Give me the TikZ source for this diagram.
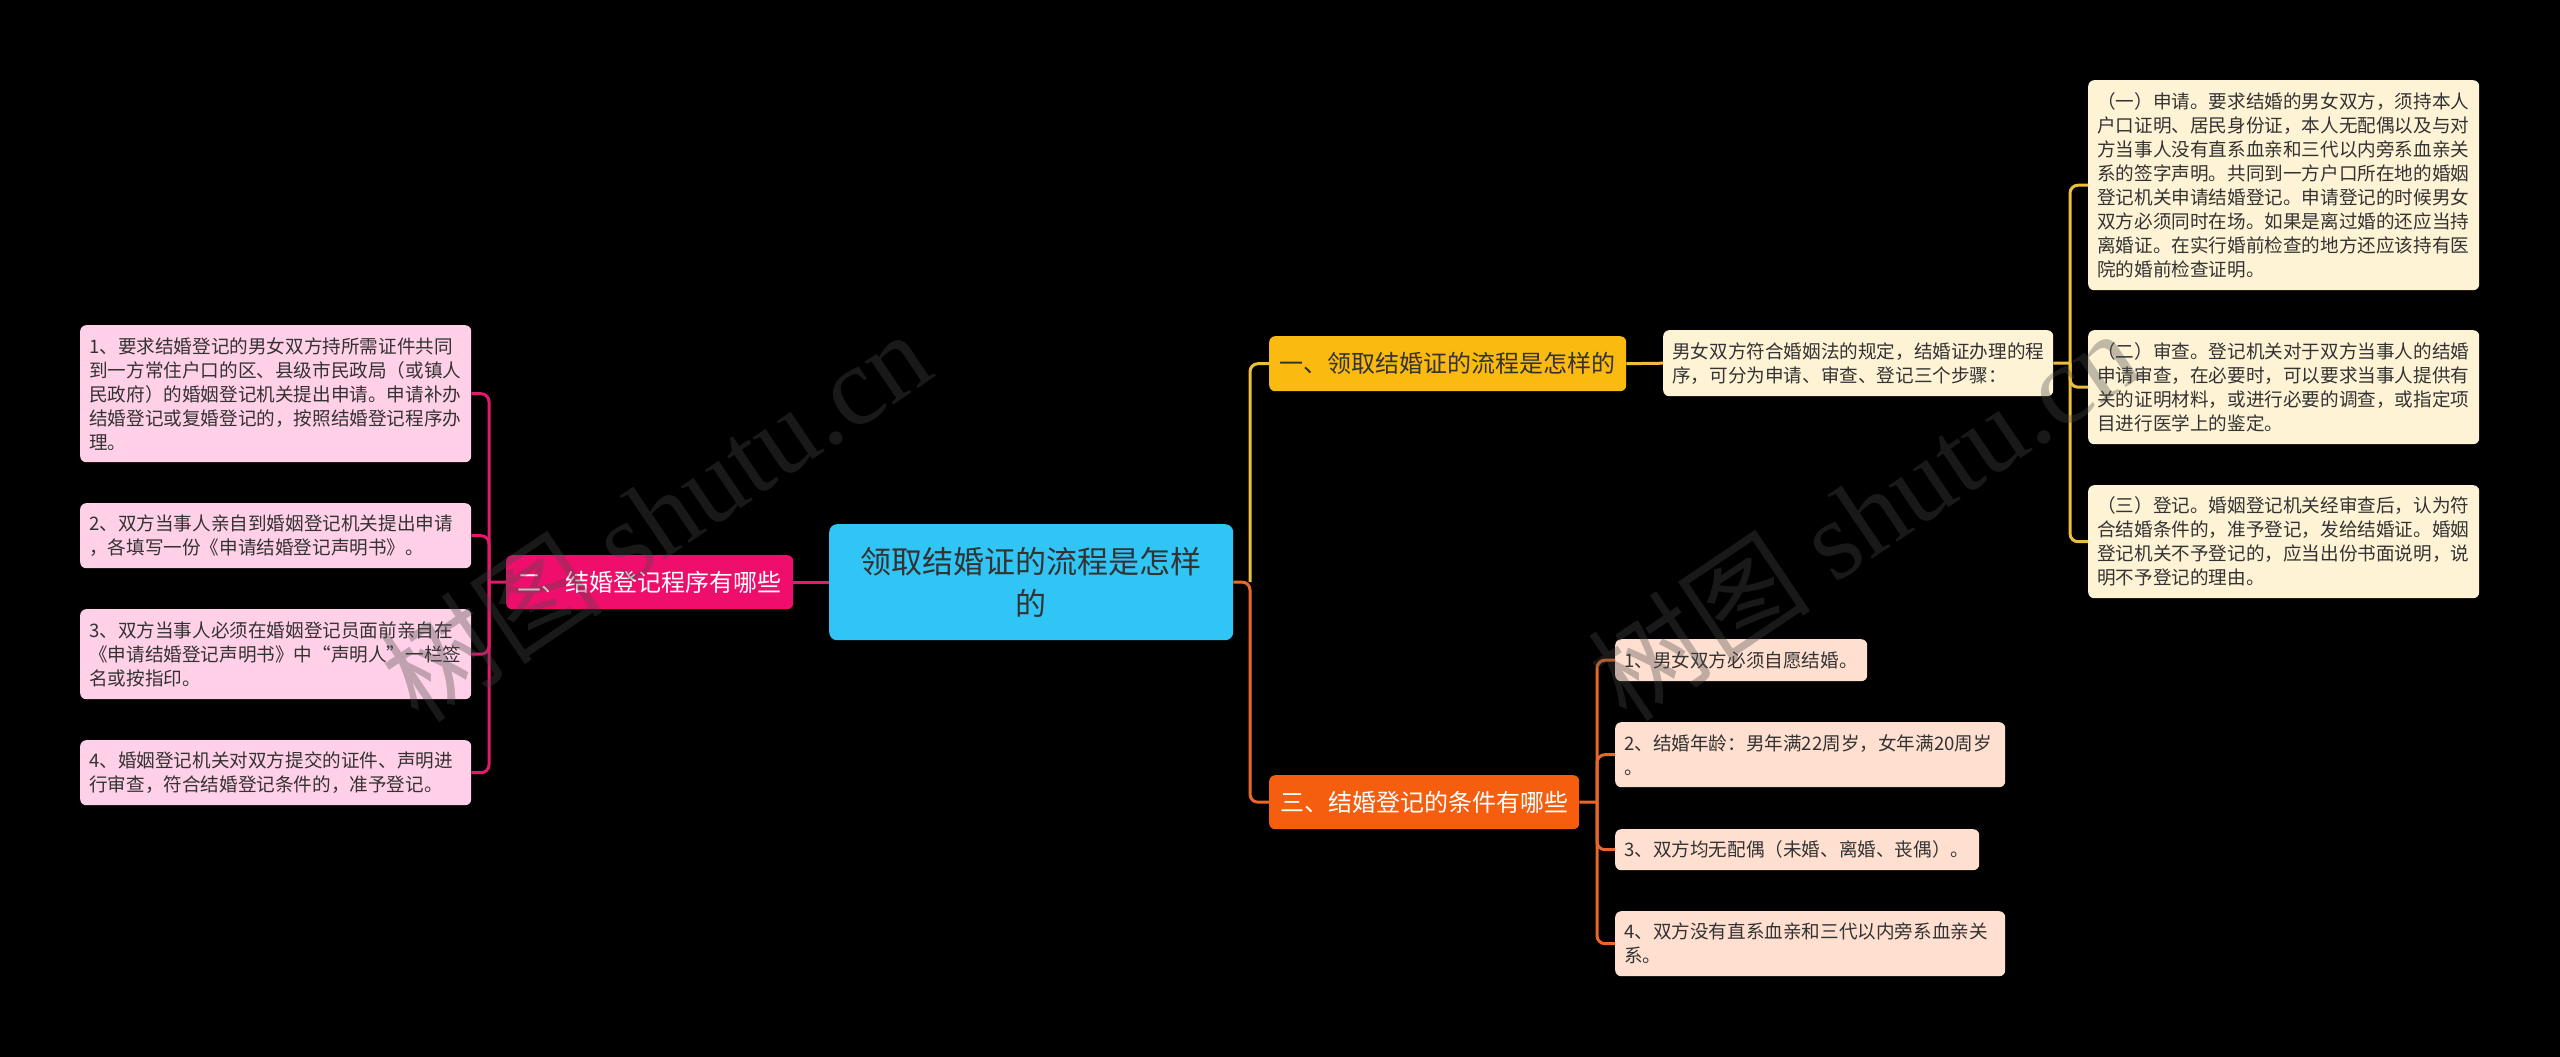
\documentclass[tikz,border=0pt]{standalone}
\usepackage{fontspec}
\setmainfont{Noto Sans CJK SC}
\newfontfamily\wmserif{Liberation Serif}
\newcommand\lffont{\fontsize{18.6}{24}\selectfont}
\newcommand\mnfont{\fontsize{24}{30}\selectfont}
\newcommand\rtfont{\fontsize{31}{42}\selectfont}
\definecolor{rootfill}{HTML}{30C5F5}
\definecolor{pmain}{HTML}{EF0E6B}
\definecolor{pleaf}{HTML}{FFD0E8}
\definecolor{pline}{HTML}{E3196C}
\definecolor{ymain}{HTML}{FBBA0F}
\definecolor{yleaf}{HTML}{FFF3D6}
\definecolor{yline}{HTML}{EDBE3E}
\definecolor{omain}{HTML}{F55D0F}
\definecolor{oleaf}{HTML}{FFE0D0}
\definecolor{oline}{HTML}{E8672A}
\definecolor{txt}{HTML}{333333}
\definecolor{wmgray}{HTML}{4A4A4A}
\tikzset{
  box/.style={anchor=north west, rounded corners=6, inner ysep=0, inner xsep=9},
  leafbox/.style={box, font=\lffont, text=txt, align=left},
  mainbox/.style={box, font=\mnfont, align=center},
  conn/.style={line width=3, rounded corners=8},
  wm/.style={rotate=34, text=wmgray, opacity=0.35, font=\fontsize{112}{120}\selectfont}
}
\begin{document}
\begin{tikzpicture}[x=1pt, y=-1pt]
\fill[black] (0,0) rectangle (2560,1057);
\useasboundingbox (0,0) rectangle (2560,1057);

% root
\node[box, fill=rootfill, font=\rtfont, text=txt, align=center, text width=380, minimum width=404, minimum height=116, rounded corners=8] (root) at (829,524) {领取结婚证的流程是怎样\\的};

% left branch
\node[mainbox, fill=pmain, text=white, minimum width=287, minimum height=54] (lm) at (506,555) {二、结婚登记程序有哪些};
\node[leafbox, fill=pleaf, text width=373, minimum height=137] (p1) at (80,325) {1、要求结婚登记的男女双方持所需证件共同\\到一方常住户口的区、县级市民政局（或镇人\\民政府）的婚姻登记机关提出申请。申请补办\\结婚登记或复婚登记的，按照结婚登记程序办\\理。};
\node[leafbox, fill=pleaf, text width=373, minimum height=65] (p2) at (80,503) {2、双方当事人亲自到婚姻登记机关提出申请\\，各填写一份《申请结婚登记声明书》。};
\node[leafbox, fill=pleaf, text width=373, minimum height=90] (p3) at (80,609) {3、双方当事人必须在婚姻登记员面前亲自在\\《申请结婚登记声明书》中“声明人”一栏签\\名或按指印。};
\node[leafbox, fill=pleaf, text width=373, minimum height=65] (p4) at (80,740) {4、婚姻登记机关对双方提交的证件、声明进\\行审查，符合结婚登记条件的，准予登记。};

% right upper branch
\node[mainbox, fill=ymain, text=txt, minimum width=357, minimum height=55] (m1) at (1269,336) {一、领取结婚证的流程是怎样的};
\node[leafbox, fill=yleaf, text width=372, minimum height=66] (d) at (1663,330) {男女双方符合婚姻法的规定，结婚证办理的程\\序，可分为申请、审查、登记三个步骤：};
\node[leafbox, fill=yleaf, text width=373, minimum height=210] (r1) at (2088,80) {（一）申请。要求结婚的男女双方，须持本人\\户口证明、居民身份证，本人无配偶以及与对\\方当事人没有直系血亲和三代以内旁系血亲关\\系的签字声明。共同到一方户口所在地的婚姻\\登记机关申请结婚登记。申请登记的时候男女\\双方必须同时在场。如果是离过婚的还应当持\\离婚证。在实行婚前检查的地方还应该持有医\\院的婚前检查证明。};
\node[leafbox, fill=yleaf, text width=373, minimum height=114] (r2) at (2088,330) {（二）审查。登记机关对于双方当事人的结婚\\申请审查，在必要时，可以要求当事人提供有\\关的证明材料，或进行必要的调查，或指定项\\目进行医学上的鉴定。};
\node[leafbox, fill=yleaf, text width=373, minimum height=113] (r3) at (2088,485) {（三）登记。婚姻登记机关经审查后，认为符\\合结婚条件的，准予登记，发给结婚证。婚姻\\登记机关不予登记的，应当出份书面说明，说\\明不予登记的理由。};

% right lower branch
\node[mainbox, fill=omain, text=white, minimum width=310, minimum height=54] (m3) at (1269,775) {三、结婚登记的条件有哪些};
\node[leafbox, fill=oleaf, text width=234, minimum height=42] (o1) at (1615,639) {1、男女双方必须自愿结婚。};
\node[leafbox, fill=oleaf, text width=372, minimum height=65] (o2) at (1615,722) {2、结婚年龄：男年满22周岁，女年满20周岁\\。};
\node[leafbox, fill=oleaf, text width=346, minimum height=41] (o3) at (1615,829) {3、双方均无配偶（未婚、离婚、丧偶）。};
\node[leafbox, fill=oleaf, text width=372, minimum height=65] (o4) at (1615,911) {4、双方没有直系血亲和三代以内旁系血亲关\\系。};

% connectors
\coordinate (ls) at (489,582);
\draw[conn, pline] (root.west) -- (lm.east);
\draw[conn, pline] (lm.west) -- (ls);
\draw[conn, pline] (ls) |- (p1.east);
\draw[conn, pline] (ls) |- (p2.east);
\draw[conn, pline] (ls) |- (p3.east);
\draw[conn, pline] (ls) |- (p4.east);

\coordinate (rs) at (1250,582);
\draw[conn, yline] (rs) |- (m1.west);
\draw[conn, oline] (root.east) -- (rs) |- (m3.west);

\draw[conn, yline] (m1.east) -- (d.west);
\coordinate (ys) at (2070,363);
\draw[conn, yline] (d.east) -- (ys);
\draw[conn, yline] (ys) |- (r1.west);
\draw[conn, yline] (ys) |- (r2.west);
\draw[conn, yline] (ys) |- (r3.west);

\coordinate (os) at (1597,802);
\draw[conn, oline] (m3.east) -- (os);
\draw[conn, oline] (os) |- (o1.west);
\draw[conn, oline] (os) |- (o2.west);
\draw[conn, oline] (os) |- (o3.west);
\draw[conn, oline] (os) |- (o4.west);

% watermarks
\node[wm] (wm1) at (655,515) {树图 {\wmserif shutu.cn}};
\node[wm] (wm2) at (1863,514) {树图 {\wmserif shutu.cn}};
\end{tikzpicture}
\end{document}
